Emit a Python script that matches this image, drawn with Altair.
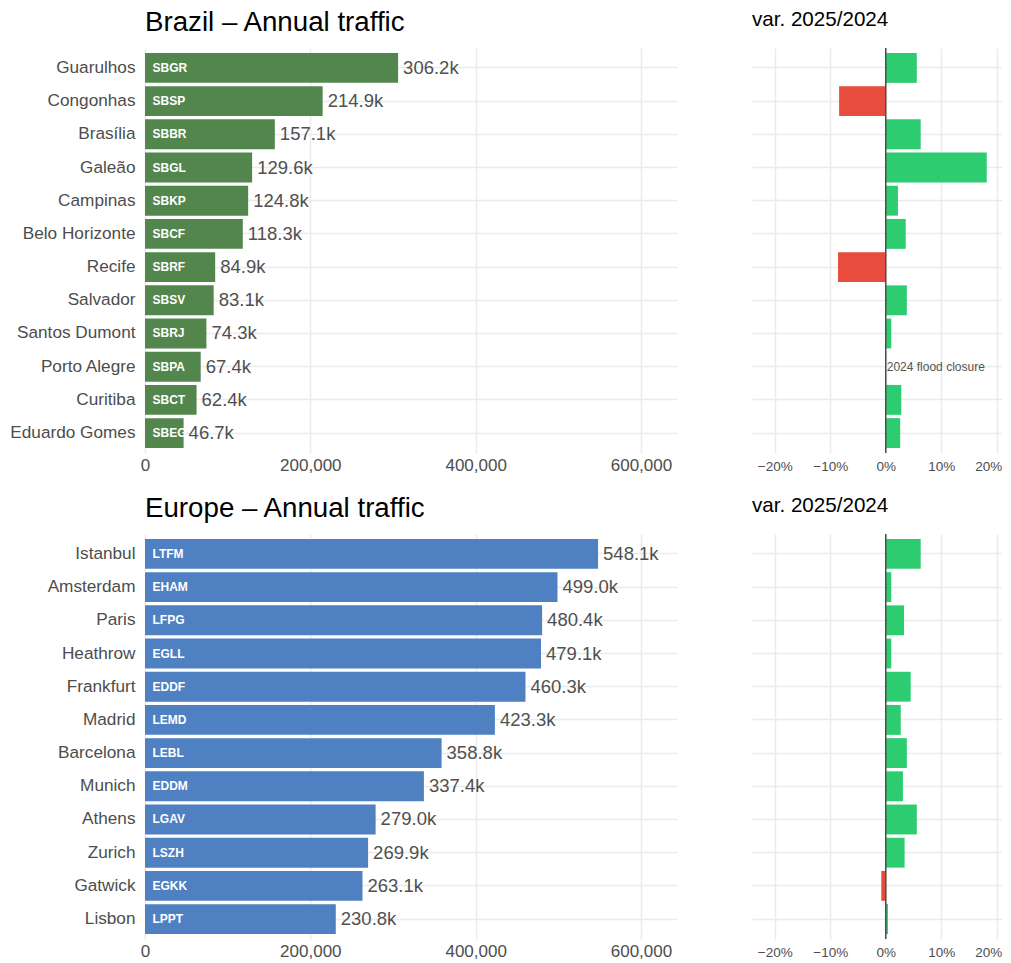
import altair as alt
import pandas as pd

FONT = "Liberation Sans"

# ---------------- data ----------------
br_names = ["Guarulhos", "Congonhas", "Brasília", "Galeão", "Campinas", "Belo Horizonte",
            "Recife", "Salvador", "Santos Dumont", "Porto Alegre", "Curitiba", "Eduardo Gomes"]
br_codes = ["SBGR", "SBSP", "SBBR", "SBGL", "SBKP", "SBCF",
            "SBRF", "SBSV", "SBRJ", "SBPA", "SBCT", "SBEG"]
br_traffic = [306200, 214900, 157100, 129600, 124800, 118300,
              84900, 83100, 74300, 67400, 62400, 46700]
br_change = [5.6, -8.4, 6.3, 18.2, 2.2, 3.6, -8.6, 3.8, 1.0, None, 2.8, 2.6]
br_notes = [None, None, None, None, None, None, None, None, None, "2024 flood closure", None, None]

eu_names = ["Istanbul", "Amsterdam", "Paris", "Heathrow", "Frankfurt", "Madrid",
            "Barcelona", "Munich", "Athens", "Zurich", "Gatwick", "Lisbon"]
eu_codes = ["LTFM", "EHAM", "LFPG", "EGLL", "EDDF", "LEMD",
            "LEBL", "EDDM", "LGAV", "LSZH", "EGKK", "LPPT"]
eu_traffic = [548100, 499000, 480400, 479100, 460300, 423300,
              358800, 337400, 279000, 269900, 263100, 230800]
eu_change = [6.3, 1.0, 3.3, 1.0, 4.5, 2.7, 3.8, 3.1, 5.6, 3.4, -0.8, 0.4]
eu_notes = [None] * 12

traffic_ticks = [0, 200000, 400000, 600000]
change_ticks = [-20, -10, 0, 10, 20]

GREEN_BR = "#53864C"
BLUE_EU = "#4E80C2"
POS = "#2ECC71"
NEG = "#E74C3C"

PLOT_H = 405
LEFT_W = 532
RIGHT_W = 250


def make_df(names, codes, traffic, change, notes):
    return pd.DataFrame({
        "name": names,
        "code": codes,
        "traffic": traffic,
        "label": [f"{t / 1000:.1f}k" for t in traffic],
        "chg": change,
        "note": notes,
    })


band = alt.Scale(paddingInner=0.1, paddingOuter=0.15)

x_traffic_scale = alt.Scale(domain=[0, 643600], nice=False, zero=True)
x_traffic_axis = alt.Axis(values=traffic_ticks, labelExpr="format(datum.value, ',')", title=None,
                          labelFontSize=17, labelColor="#4D4D4D", labelFont=FONT,
                          labelPadding=4, grid=True, ticks=False, domain=False,
                          labelFlush=False)


def traffic_panel(df, order, color, title):
    y_left = alt.Y("name:N", sort=order, scale=band,
                   axis=alt.Axis(title=None, labelFontSize=17.2, labelPadding=10,
                                 labelColor="#4D4D4D", labelFont=FONT,
                                 minExtent=137, maxExtent=137, grid=True,
                                 ticks=False, domain=False))
    base = alt.Chart(df).encode(y=y_left)
    bars = base.mark_bar(color=color).encode(
        x=alt.X("traffic:Q", scale=x_traffic_scale, axis=x_traffic_axis))
    codes = base.mark_text(align="left", dx=7.5, color="white", fontWeight="bold",
                           fontSize=12, font=FONT).encode(
        x=alt.datum(0, scale=x_traffic_scale, axis=x_traffic_axis), text="code:N")
    vals = base.mark_text(align="left", dx=5, color="#505050", fontSize=18.5,
                          font=FONT).encode(
        x=alt.X("traffic:Q", scale=x_traffic_scale, axis=x_traffic_axis), text="label:N")
    return alt.layer(bars, codes, vals).properties(
        width=LEFT_W, height=PLOT_H,
        title=alt.TitleParams(title, anchor="start", frame="group", fontSize=27.7,
                              fontWeight="normal", font=FONT, color="black",
                              baseline="alphabetic", offset=-10.5))


def change_panel(df, order, title):
    y_right = alt.Y("name:N", sort=order, scale=band,
                    axis=alt.Axis(title=None, labels=False, ticks=False, domain=False,
                                  grid=True, minExtent=0, maxExtent=0))
    xs = alt.Scale(domain=[-24.1, 20.95], nice=False, zero=False)
    xa = alt.Axis(values=change_ticks, title=None,
                  labelExpr="replace(format(datum.value / 100, '.0%'), '-', '\u2212')",
                  labelFontSize=13.5, labelColor="#4D4D4D", labelFont=FONT,
                  labelPadding=6, grid=True, ticks=False, domain=False,
                  labelFlush=6, labelFlushOffset=5)
    base = alt.Chart(df).encode(y=y_right)
    bars = base.transform_filter("isValid(datum.chg)").mark_bar().encode(
        x=alt.X("chg:Q", scale=xs, stack=None, axis=xa),
        color=alt.condition("datum.chg >= 0", alt.value(POS), alt.value(NEG)))
    zero = alt.Chart(pd.DataFrame({"z": [0]})).mark_rule(
        color="#4D4D4D", strokeWidth=1.5).encode(x=alt.X("z:Q", scale=xs, axis=xa))
    note = base.transform_filter("isValid(datum.note)").mark_text(
        align="left", dx=1, fontSize=12, color="#555555", font=FONT).encode(
        x=alt.datum(0, scale=xs, axis=xa), text="note:N")
    return alt.layer(bars, zero, note).properties(
        width=RIGHT_W, height=PLOT_H,
        title=alt.TitleParams(title, anchor="start", frame="group", fontSize=20.6,
                              fontWeight="normal", font=FONT, color="black",
                              baseline="alphabetic", offset=1))


br = make_df(br_names, br_codes, br_traffic, br_change, br_notes)
eu = make_df(eu_names, eu_codes, eu_traffic, eu_change, eu_notes)

row_br = alt.hconcat(traffic_panel(br, br_names, GREEN_BR, "Brazil \u2013 Annual traffic"),
                     change_panel(br, br_names, "var. 2025/2024"), spacing=75)
row_eu = alt.hconcat(traffic_panel(eu, eu_names, BLUE_EU, "Europe \u2013 Annual traffic"),
                     change_panel(eu, eu_names, "var. 2025/2024"), spacing=75)

chart = alt.vconcat(row_br, row_eu, spacing=21).properties(
    padding=0, background="white"
).configure_view(stroke=None).configure_axis(
    gridColor="#EBEBEB", gridWidth=1.5
)

chart.save("out.html", embed_options={"renderer": "svg", "actions": False})
